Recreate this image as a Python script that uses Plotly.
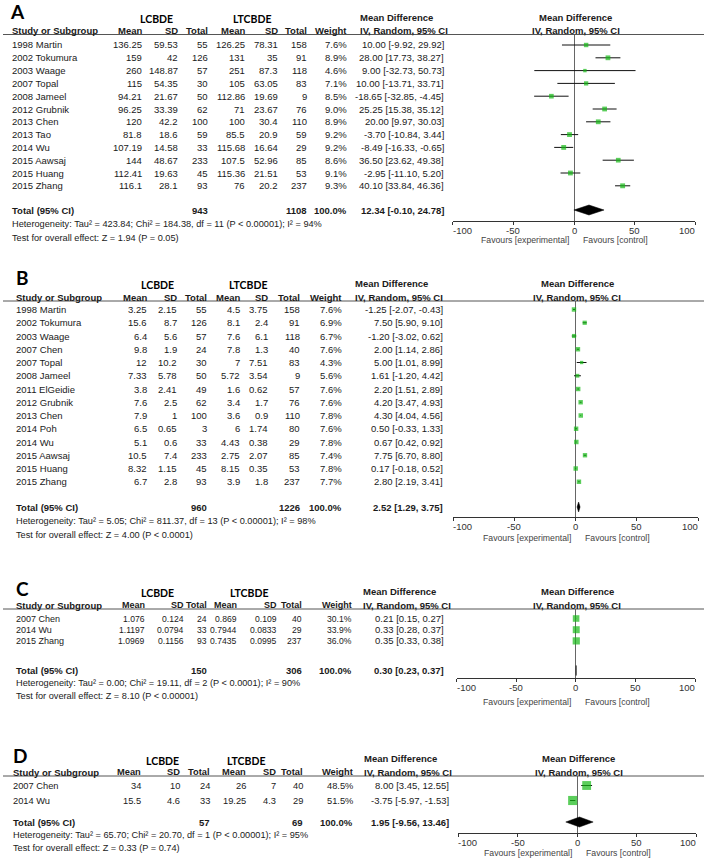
import math
import plotly.graph_objects as go

W, H = 711, 862
ARIAL = "Liberation Sans, Arial, Helvetica, sans-serif"
CAL = "Lato, Carlito, Calibri, sans-serif"
GREEN = "#16b916"
TXT = "#1a1a1a"

# ---------------- Panel A data ----------------
studies_A = ["1998 Martin", "2002 Tokumura", "2003 Waage", "2007 Topal", "2008 Jameel", "2012 Grubnik",
             "2013 Chen", "2013 Tao", "2014 Wu", "2015 Aawsaj", "2015 Huang", "2015 Zhang"]
lc_mean_A = [136.25, 159, 260, 115, 94.21, 96.25, 120, 81.8, 107.19, 144, 112.41, 116.1]
lc_sd_A = [59.53, 42, 148.87, 54.35, 21.67, 33.39, 42.2, 18.6, 14.58, 48.67, 19.63, 28.1]
lc_n_A = [55, 126, 57, 30, 50, 62, 100, 59, 33, 233, 45, 93]
lt_mean_A = [126.25, 131, 251, 105, 112.86, 71, 100, 85.5, 115.68, 107.5, 115.36, 76]
lt_sd_A = [78.31, 35, 87.3, 63.05, 19.69, 23.67, 30.4, 20.9, 16.64, 52.96, 21.51, 20.2]
lt_n_A = [158, 91, 118, 83, 9, 76, 110, 59, 29, 85, 53, 237]
weight_A = [7.6, 8.9, 4.6, 7.1, 8.5, 9.0, 8.9, 9.2, 9.2, 8.6, 9.1, 9.3]
md_A = [10.00, 28.00, 9.00, 10.00, -18.65, 25.25, 20.00, -3.70, -8.49, 36.50, -2.95, 40.10]
lo_A = [-9.92, 17.73, -32.73, -13.71, -32.85, 15.38, 9.97, -10.84, -16.33, 23.62, -11.10, 33.84]
hi_A = [29.92, 38.27, 50.73, 33.71, -4.45, 35.12, 30.03, 3.44, -0.65, 49.38, 5.20, 46.36]
total_A = dict(n1=943, n2=1108, md=12.34, lo=-0.10, hi=24.78)
het_A = "Heterogeneity: Tau² = 423.84; Chi² = 184.38, df = 11 (P &lt; 0.00001); I² = 94%"
test_A = "Test for overall effect: Z = 1.94 (P = 0.05)"

# ---------------- Panel B data ----------------
studies_B = ["1998 Martin", "2002 Tokumura", "2003 Waage", "2007 Chen", "2007 Topal", "2008 Jameel",
             "2011 ElGeidie", "2012 Grubnik", "2013 Chen", "2014 Poh", "2014 Wu", "2015 Aawsaj",
             "2015 Huang", "2015 Zhang"]
lc_mean_B = [3.25, 15.6, 6.4, 9.8, 12, 7.33, 3.8, 7.6, 7.9, 6.5, 5.1, 10.5, 8.32, 6.7]
lc_sd_B = [2.15, 8.7, 5.6, 1.9, 10.2, 5.78, 2.41, 2.5, 1, 0.65, 0.6, 7.4, 1.15, 2.8]
lc_n_B = [55, 126, 57, 24, 30, 50, 49, 62, 100, 3, 33, 233, 45, 93]
lt_mean_B = [4.5, 8.1, 7.6, 7.8, 7, 5.72, 1.6, 3.4, 3.6, 6, 4.43, 2.75, 8.15, 3.9]
lt_sd_B = [3.75, 2.4, 6.1, 1.3, 7.51, 3.54, 0.62, 1.7, 0.9, 1.74, 0.38, 2.07, 0.35, 1.8]
lt_n_B = [158, 91, 118, 40, 83, 9, 57, 76, 110, 80, 29, 85, 53, 237]
weight_B = [7.6, 6.9, 6.7, 7.6, 4.3, 5.6, 7.6, 7.6, 7.8, 7.6, 7.8, 7.4, 7.8, 7.7]
md_B = [-1.25, 7.50, -1.20, 2.00, 5.00, 1.61, 2.20, 4.20, 4.30, 0.50, 0.67, 7.75, 0.17, 2.80]
lo_B = [-2.07, 5.90, -3.02, 1.14, 1.01, -1.20, 1.51, 3.47, 4.04, -0.33, 0.42, 6.70, -0.18, 2.19]
hi_B = [-0.43, 9.10, 0.62, 2.86, 8.99, 4.42, 2.89, 4.93, 4.56, 1.33, 0.92, 8.80, 0.52, 3.41]
total_B = dict(n1=960, n2=1226, md=2.52, lo=1.29, hi=3.75)
het_B = "Heterogeneity: Tau² = 5.05; Chi² = 811.37, df = 13 (P &lt; 0.00001); I² = 98%"
test_B = "Test for overall effect: Z = 4.00 (P &lt; 0.0001)"

# ---------------- Panel C data ----------------
studies_C = ["2007 Chen", "2014 Wu", "2015 Zhang"]
lc_mean_C = [1.076, 1.1197, 1.0969]
lc_sd_C = [0.124, 0.0794, 0.1156]
lc_n_C = [24, 33, 93]
lt_mean_C = [0.869, 0.7944, 0.7435]
lt_sd_C = [0.109, 0.0833, 0.0995]
lt_n_C = [40, 29, 237]
weight_C = [30.1, 33.9, 36.0]
md_C = [0.21, 0.33, 0.35]
lo_C = [0.15, 0.28, 0.33]
hi_C = [0.27, 0.37, 0.38]
total_C = dict(n1=150, n2=306, md=0.30, lo=0.23, hi=0.37)
het_C = "Heterogeneity: Tau² = 0.00; Chi² = 19.11, df = 2 (P &lt; 0.0001); I² = 90%"
test_C = "Test for overall effect: Z = 8.10 (P &lt; 0.00001)"

# ---------------- Panel D data ----------------
studies_D = ["2007 Chen", "2014 Wu"]
lc_mean_D = [34, 15.5]
lc_sd_D = [10, 4.6]
lc_n_D = [24, 33]
lt_mean_D = [26, 19.25]
lt_sd_D = [7, 4.3]
lt_n_D = [40, 29]
weight_D = [48.5, 51.5]
md_D = [8.00, -3.75]
lo_D = [3.45, -5.97]
hi_D = [12.55, -1.53]
total_D = dict(n1=57, n2=69, md=1.95, lo=-9.56, hi=13.46)
het_D = "Heterogeneity: Tau² = 65.70; Chi² = 20.70, df = 1 (P &lt; 0.00001); I² = 95%"
test_D = "Test for overall effect: Z = 0.33 (P = 0.74)"

tick_vals = [-100, -50, 0, 50, 100]
tick_text = ["-100", "-50", "0", "50", "100"]
tick_anchor = ["left", "center", "center", "center", "right"]
col_headers = ["Mean", "SD", "Total", "Mean", "SD", "Total", "Weight"]

# ---------------- layout (pixel positions) ----------------
lay = {
    "A": dict(letter=(10, 12), grp_y=19, grp_x=(156, 252), line_y=34.5, row0=45, step=12.8,
              total_y=210, het_y=223.5, test_y=238, axis_y=221, ax=(452.7, 695.3), study_x=12,
              cols=[141.7, 178, 208, 245, 278, 307, 347], md_x=444, md_hdr_x=360, k=1.6, fav_y=240,
              fs=9.5),
    "B": dict(letter=(16, 277), grp_y=285, grp_x=(157, 248), line_y=301, row0=309.5, step=13.25,
              total_y=507, het_y=521, test_y=535, axis_y=517, ax=(453, 698), study_x=16,
              cols=[146.5, 177, 207, 240, 268, 300, 342], md_x=443, md_hdr_x=355, k=1.6, fav_y=538,
              fs=9.5),
    "C": dict(letter=(16, 588), grp_y=593, grp_x=(157, 249), line_y=609, row0=618.5, step=11.2,
              total_y=670.5, het_y=683, test_y=695.5, axis_y=678, ax=(456.7, 695), study_x=16,
              cols=[145, 184, 207, 237, 277, 302, 351.5], md_x=444, md_hdr_x=363, k=1.2, fav_y=701.5,
              fs=8.6),
    "D": dict(letter=(13, 755), grp_y=761, grp_x=(162, 246), line_y=776, row0=785.5, step=15,
              total_y=822, het_y=835, test_y=848, axis_y=833, ax=(458.3, 696), study_x=13,
              cols=[141, 180, 210, 246, 276, 303, 352.5], md_x=449, md_hdr_x=364, k=1.27, fav_y=853,
              fs=9.3),
}

panels = [
    ("A", studies_A, lc_mean_A, lc_sd_A, lc_n_A, lt_mean_A, lt_sd_A, lt_n_A, weight_A, md_A, lo_A, hi_A, total_A, het_A, test_A),
    ("B", studies_B, lc_mean_B, lc_sd_B, lc_n_B, lt_mean_B, lt_sd_B, lt_n_B, weight_B, md_B, lo_B, hi_B, total_B, het_B, test_B),
    ("C", studies_C, lc_mean_C, lc_sd_C, lc_n_C, lt_mean_C, lt_sd_C, lt_n_C, weight_C, md_C, lo_C, hi_C, total_C, het_C, test_C),
    ("D", studies_D, lc_mean_D, lc_sd_D, lc_n_D, lt_mean_D, lt_sd_D, lt_n_D, weight_D, md_D, lo_D, hi_D, total_D, het_D, test_D),
]

annotations = []
shapes = []
fig = go.Figure()


def T(x, y, text, anchor="left", size=9.5, bold=False, color=TXT, family=ARIAL, xref="paper"):
    annotations.append(dict(
        x=x / W if xref == "paper" else x, y=1 - y / H, xref=xref, yref="paper",
        text=f"<b>{text}</b>" if bold else text, showarrow=False,
        xanchor=anchor, yanchor="middle", borderpad=0, borderwidth=0,
        font=dict(size=size, color=color, family=family)))


def g(v):
    return f"{v:g}"


def ci(m, l, h):
    return f"{m:.2f} [{l:.2f}, {h:.2f}]"


layout_axes = {}
for p, (name, studies, m1, s1, n1, m2, s2, n2, wt, md, lo, hi, tot, het, test) in enumerate(panels, start=1):
    L = lay[name]
    fs = L["fs"]
    sfx = "" if p == 1 else str(p)
    zero_px = (L["ax"][0] + L["ax"][1]) / 2

    # titles / headers
    T(L["letter"][0], L["letter"][1], name, "left", 19, True, "#000", CAL)
    T(L["grp_x"][0], L["grp_y"], "LCBDE", "center", 10.5, True, "#000", CAL)
    T(L["grp_x"][1], L["grp_y"], "LTCBDE", "center", 10.5, True, "#000", CAL)
    hy = L["line_y"] - 3.6
    T(L["study_x"], hy, "Study or Subgroup", "left", 9.5, bold=True)
    for x, lab in zip(L["cols"], col_headers):
        T(x, hy, lab, "right", max(fs, 9.0), bold=True)
    T(L["md_hdr_x"], hy - 13.5, "Mean Difference", "left", 9.5, bold=True)
    T(L["md_hdr_x"], hy, "IV, Random, 95% CI", "left", 9.5, bold=True)
    T(zero_px + 1.5, hy - 13.5, "Mean Difference", "center", 9.5, bold=True)
    T(zero_px + 1.5, hy, "IV, Random, 95% CI", "center", 9.5, bold=True)
    shapes.append(dict(type="line", xref="paper", yref="paper", x0=3 / W, x1=704 / W,
                       y0=1 - L["line_y"] / H, y1=1 - L["line_y"] / H,
                       line=dict(color="#555", width=1)))

    # study rows
    for i in range(len(studies)):
        y = L["row0"] + L["step"] * i
        T(L["study_x"], y, studies[i], "left", max(fs, 9.0))
        vals = [g(m1[i]), g(s1[i]), g(n1[i]), g(m2[i]), g(s2[i]), g(n2[i]), f"{wt[i]:.1f}%"]
        for x, v in zip(L["cols"], vals):
            T(x, y, v, "right", fs)
        T(L["md_x"], y, ci(md[i], lo[i], hi[i]), "right", 9.5)

    # total row
    ty = L["total_y"]
    T(L["study_x"], ty, "Total (95% CI)", "left", bold=True)
    T(L["cols"][2], ty, g(tot["n1"]), "right", bold=True)
    T(L["cols"][5], ty, g(tot["n2"]), "right", bold=True)
    T(L["cols"][6], ty, "100.0%", "right", bold=True)
    T(L["md_x"], ty, ci(tot["md"], tot["lo"], tot["hi"]), "right", bold=True)
    T(L["study_x"], L["het_y"], het, "left", 9.2)
    T(L["study_x"], L["test_y"], test, "left", 9.2)

    # favours labels
    T(zero_px - 5, L["fav_y"], "Favours [experimental]", "right", 8.7, color="#444")
    T(zero_px + 9, L["fav_y"], "Favours [control]", "left", 8.7, color="#444")

    # tick labels on the axis scale (end labels aligned inward, RevMan style)
    for v, t, a in zip(tick_vals, tick_text, tick_anchor):
        T(v, L["axis_y"] + 9.5, t, a, 9.5, color="#333", xref="x" + sfx)

    # axes for the forest plot
    step = L["step"]
    bot = (L["axis_y"] - L["row0"]) / step
    top = (L["line_y"] - L["row0"]) / step
    layout_axes["xaxis" + sfx] = dict(
        domain=[L["ax"][0] / W, L["ax"][1] / W], range=[-100, 100], anchor="y" + sfx,
        tickmode="array", tickvals=tick_vals, showticklabels=False,
        showline=True, linecolor="#333", linewidth=1, ticks="outside", ticklen=3,
        tickcolor="#333", showgrid=False, zeroline=True, zerolinecolor="#666",
        zerolinewidth=1, fixedrange=True)
    layout_axes["yaxis" + sfx] = dict(
        domain=[1 - L["axis_y"] / H, 1 - L["line_y"] / H], range=[bot, top],
        visible=False, showgrid=False, zeroline=False, fixedrange=True)

    rows = list(range(len(studies)))
    fig.add_trace(go.Scatter(
        x=md, y=rows, mode="markers", xaxis="x" + sfx, yaxis="y" + sfx,
        marker=dict(symbol="square", color=GREEN, size=[L["k"] * math.sqrt(w) for w in wt],
                    line=dict(width=0)),
        error_x=dict(type="data", symmetric=False,
                     array=[h - m for h, m in zip(hi, md)],
                     arrayminus=[m - l for m, l in zip(md, lo)],
                     width=0, thickness=1, color="#111"),
        showlegend=False, hoverinfo="skip", cliponaxis=False))

    # pooled diamond
    ti = (ty - L["row0"]) / step
    dh = 5 / step
    fig.add_trace(go.Scatter(
        x=[tot["lo"], tot["md"], tot["hi"], tot["md"], tot["lo"]],
        y=[ti, ti - dh, ti, ti + dh, ti], mode="lines", fill="toself",
        fillcolor="#000", line=dict(color="#000", width=0.5),
        xaxis="x" + sfx, yaxis="y" + sfx, showlegend=False, hoverinfo="skip"))

fig.update_layout(
    width=W, height=H, margin=dict(l=0, r=0, t=0, b=0),
    paper_bgcolor="white", plot_bgcolor="rgba(0,0,0,0)",
    annotations=annotations, shapes=shapes, showlegend=False,
    **layout_axes)

fig.write_html("out.html", config={"displayModeBar": False},
               post_script="document.body.style.margin='0';")
